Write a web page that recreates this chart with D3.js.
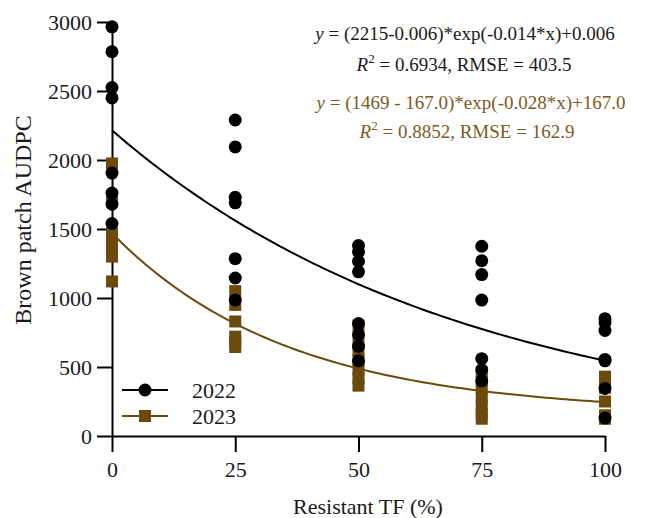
<!DOCTYPE html>
<html>
  <head>
    <script src="https://d3js.org/d3.v7.min.js"></script>
    <style>
      body { margin: 0; background: #fff; }
    </style>
  </head>
  <body>
    <script>

    // x positions (Resistant TF %)
    var levels = [0, 25, 50, 75, 100];

    // 2022 brown patch AUDPC, one array per TF level
    var y2022 = [
      [2965, 2785, 2525, 2450, 1905, 1760, 1680, 1540],
      [2290, 2095, 1730, 1690, 1285, 1145, 985],
      [1380, 1335, 1265, 1190, 815, 735, 650, 545],
      [1375, 1270, 1170, 985, 560, 480, 400],
      [850, 820, 765, 555, 545, 345, 130]
    ];

    // 2023 brown patch AUDPC
    var y2023 = [
      [1975, 1730, 1470, 1420, 1360, 1300, 1120],
      [1050, 950, 830, 720, 680, 645],
      [800, 700, 620, 550, 480, 420, 365],
      [460, 400, 340, 280, 220, 160, 125],
      [430, 350, 250, 150, 125]
    ];

    // fitted exponential models
    var fit2022 = { a: 2215, c: 0.006, k: 0.014 };
    var fit2023 = { a: 1469, c: 167.0, k: 0.028 };

    var yTicks = [0, 500, 1000, 1500, 2000, 2500, 3000];
    var xTicks = [0, 25, 50, 75, 100];
    var seriesNames = ["2022", "2023"];
    var eqLines = [
      "(2215-0.006)*exp(-0.014*x)+0.006",
      "0.6934, RMSE = 403.5",
      "(1469 - 167.0)*exp(-0.028*x)+167.0",
      "0.8852, RMSE = 162.9"
    ];

    var w = 649, h = 518;
    var black = "#000000", brown = "#6b4a0c", brownText = "#7b5b1f", ink = "#1a1a1a";
    var serif = "Liberation Serif";

    var svg = d3.select("body").append("svg")
      .attr("width", w).attr("height", h);

    var x = d3.scaleLinear().domain([0, 100]).range([112, 605]);
    var y = d3.scaleLinear().domain([0, 3000]).range([436, 22]);

    // axes
    var xAxis = svg.append("g")
      .attr("transform", "translate(0," + y(0) + ")")
      .call(d3.axisBottom(x).tickValues(xTicks).tickFormat(d3.format("d"))
        .tickSize(16).tickPadding(9).tickSizeOuter(0));
    var yAxis = svg.append("g")
      .attr("transform", "translate(" + x(0) + ",0)")
      .call(d3.axisLeft(y).tickValues(yTicks).tickFormat(d3.format("d"))
        .tickSize(15).tickPadding(5).tickSizeOuter(0));

    [xAxis, yAxis].forEach(function(g) {
      g.select(".domain").attr("stroke-width", 2);
      g.selectAll(".tick line").attr("stroke-width", 2);
      g.selectAll("text").attr("font-family", serif).attr("font-size", "22px").attr("fill", ink);
    });

    // axis titles
    svg.append("text")
      .attr("x", 368).attr("y", 514)
      .attr("text-anchor", "middle").attr("font-family", serif).attr("font-size", "22px").attr("fill", ink)
      .text("Resistant TF (%)");
    svg.append("text")
      .attr("transform", "translate(31,220) rotate(-90)")
      .attr("text-anchor", "middle").attr("font-family", serif).attr("font-size", "24px").attr("fill", ink)
      .text("Brown patch AUDPC");

    // fitted curves
    function curve(f) {
      return d3.range(0, 100.5, 1).map(function(t) {
        return [t, (f.a - f.c) * Math.exp(-f.k * t) + f.c];
      });
    }
    var line = d3.line()
      .x(function(d) { return x(d[0]); })
      .y(function(d) { return y(d[1]); });
    svg.append("path").datum(curve(fit2022))
      .attr("d", line).attr("fill", "none").attr("stroke", black).attr("stroke-width", 2);
    svg.append("path").datum(curve(fit2023))
      .attr("d", line).attr("fill", "none").attr("stroke", brown).attr("stroke-width", 2);

    // flatten data
    function flat(arr) {
      var out = [];
      arr.forEach(function(vals, i) {
        vals.forEach(function(v) { out.push([levels[i], v]); });
      });
      return out;
    }

    // 2023 squares
    var sq = 12;
    svg.selectAll("rect.p2023")
      .data(flat(y2023))
      .enter().append("rect")
      .attr("class", "p2023")
      .attr("x", function(d) { return x(d[0]) - sq / 2; })
      .attr("y", function(d) { return y(d[1]) - sq / 2; })
      .attr("width", sq).attr("height", sq)
      .attr("fill", brown);

    // 2022 circles
    svg.selectAll("circle.p2022")
      .data(flat(y2022))
      .enter().append("circle")
      .attr("class", "p2022")
      .attr("cx", function(d) { return x(d[0]); })
      .attr("cy", function(d) { return y(d[1]); })
      .attr("r", 6.5)
      .attr("fill", black);

    // legend
    var legend = svg.append("g");
    seriesNames.forEach(function(name, i) {
      var ly = 390 + i * 26;
      var col = i === 0 ? black : brown;
      legend.append("line")
        .attr("x1", 122).attr("x2", 168).attr("y1", ly).attr("y2", ly)
        .attr("stroke", col).attr("stroke-width", 2);
      if (i === 0) {
        legend.append("circle").attr("cx", 145).attr("cy", ly).attr("r", 6.5).attr("fill", col);
      } else {
        legend.append("rect").attr("x", 139).attr("y", ly - 6).attr("width", 12).attr("height", 12).attr("fill", col);
      }
      legend.append("text")
        .attr("x", 192).attr("y", ly + 7.5)
        .attr("font-family", serif).attr("font-size", "22px").attr("fill", ink)
        .text(name);
    });

    // equation annotations
    var eqX = [465, 464, 471, 467];
    var eqY = [40, 71, 109, 138];
    eqLines.forEach(function(s, i) {
      var col = i < 2 ? ink : brownText;
      var t = svg.append("text")
        .attr("x", eqX[i]).attr("y", eqY[i])
        .attr("text-anchor", "middle").attr("font-family", serif)
        .attr("font-size", "19px").attr("fill", col);
      if (i % 2 === 0) {
        t.append("tspan").attr("font-style", "italic").text("y");
        t.append("tspan").text(" = " + s);
      } else {
        t.append("tspan").attr("font-style", "italic").text("R");
        t.append("tspan").attr("font-size", "13px").attr("dy", -8).text("2");
        t.append("tspan").attr("dy", 8).text(" = " + s);
      }
    });

    </script>
  </body>
</html>
